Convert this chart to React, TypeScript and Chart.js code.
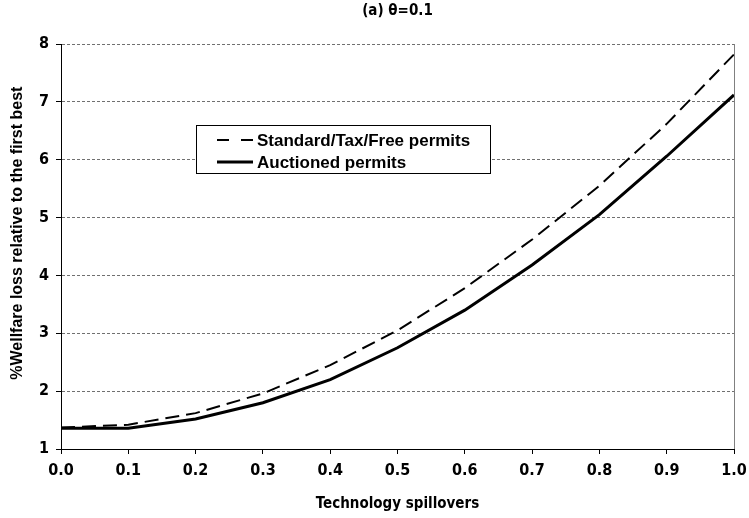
import React, { useEffect, useRef } from "react";
import { Chart, registerables } from "chart.js";

Chart.register(...registerables);

const spillovers = [0.0, 0.1, 0.2, 0.3, 0.4, 0.5, 0.6, 0.7, 0.8, 0.9, 1.0];
const standardPermits = [1.37, 1.42, 1.62, 1.96, 2.45, 3.05, 3.78, 4.62, 5.55, 6.62, 7.82];
const auctionedPermits = [1.36, 1.36, 1.52, 1.8, 2.2, 2.75, 3.4, 4.18, 5.05, 6.06, 7.12];
const seriesLabels = ["Standard/Tax/Free permits", "Auctioned permits"];
const titleText = "(a) θ=0.1";
const xTitle = "Technology spillovers";
const yTitle = "%Wellfare loss relative to the first best";

const NARROW = "'Liberation Sans Narrow', 'DejaVu Sans Condensed', 'Liberation Sans', Arial, sans-serif";
const SANS = "'Liberation Sans', Arial, sans-serif";

const frameAndLegend = {
  id: "frameAndLegend",
  afterDatasetsDraw(chart: any) {
    const { ctx, chartArea } = chart;
    ctx.save();
    // right border of plot area
    ctx.strokeStyle = "#808080";
    ctx.lineWidth = 1;
    ctx.setLineDash([]);
    ctx.beginPath();
    ctx.moveTo(chartArea.right + 0.5, chartArea.top);
    ctx.lineTo(chartArea.right + 0.5, chartArea.bottom);
    ctx.stroke();

    // legend box
    const bx = 196, by = 125, bw = 294, bh = 48;
    ctx.fillStyle = "#ffffff";
    ctx.fillRect(bx, by, bw, bh);
    ctx.strokeStyle = "#000000";
    ctx.lineWidth = 1;
    ctx.strokeRect(bx + 0.5, by + 0.5, bw, bh);

    const rows = [140, 162];
    chart.data.datasets.forEach((ds: any, i: number) => {
      const y = rows[i];
      ctx.beginPath();
      ctx.strokeStyle = ds.borderColor;
      ctx.lineWidth = i === 0 ? 2 : 3;
      ctx.setLineDash(i === 0 ? [12, 12] : []);
      ctx.moveTo(217, y);
      ctx.lineTo(253, y);
      ctx.stroke();
      ctx.setLineDash([]);
      ctx.fillStyle = "#000000";
      ctx.font = "bold 17px " + SANS;
      ctx.textBaseline = "middle";
      ctx.textAlign = "left";
      ctx.fillText(ds.label, 257, y + 1);
    });
    ctx.restore();
  },
};

export default function App() {
  const canvasRef = useRef<HTMLCanvasElement | null>(null);

  useEffect(() => {
    document.body.style.margin = "0";
    const canvas = canvasRef.current;
    if (!canvas) return;
    const chart = new Chart(canvas, {
      type: "line",
      data: {
        datasets: [
          {
            label: seriesLabels[0],
            data: spillovers.map((x, i) => ({ x, y: standardPermits[i] })),
            borderColor: "#000000",
            borderWidth: 2,
            borderDash: [14, 7],
            pointRadius: 0,
            tension: 0,
            fill: false,
          },
          {
            label: seriesLabels[1],
            data: spillovers.map((x, i) => ({ x, y: auctionedPermits[i] })),
            borderColor: "#000000",
            borderWidth: 3,
            pointRadius: 0,
            tension: 0,
            fill: false,
          },
        ],
      },
      options: {
        responsive: false,
        animation: false,
        layout: { padding: { top: 0, right: 15, bottom: 0, left: 0 } },
        plugins: {
          legend: { display: false },
          tooltip: { enabled: false },
          title: {
            display: true,
            text: titleText,
            fullSize: false,
            color: "#000000",
            font: { family: NARROW, size: 15, weight: "bold" },
            padding: { top: 2, bottom: 24 },
          },
        },
        scales: {
          x: {
            type: "linear",
            min: 0,
            max: 1,
            ticks: {
              stepSize: 0.1,
              color: "#000000",
              font: { family: NARROW, size: 16, weight: "bold" },
              padding: 7,
              maxRotation: 0,
              callback: (v: any) => Number(v).toFixed(1),
            },
            grid: {
              drawOnChartArea: false,
              drawTicks: true,
              tickLength: 5,
              tickColor: "#000000",
            },
            border: { display: true, color: "#000000", width: 1 },
            title: {
              display: true,
              text: xTitle,
              color: "#000000",
              font: { family: NARROW, size: 15, weight: "bold" },
              padding: { top: 0, bottom: 5 },
            },
            afterFit: (scale: any) => {
              scale.height = 69;
              scale.paddingLeft = 0;
              scale.paddingRight = 0;
            },
          },
          y: {
            type: "linear",
            min: 1,
            max: 8,
            ticks: {
              stepSize: 1,
              color: "#000000",
              font: { family: NARROW, size: 16, weight: "bold" },
              padding: 7,
            },
            grid: {
              color: "#707070",
              lineWidth: 1,
              tickLength: 5,
              tickColor: "#000000",
              tickBorderDash: [],
            },
            border: { display: true, color: "#000000", width: 1, dash: [3, 2] },
            title: {
              display: true,
              text: "      " + yTitle,
              color: "#000000",
              font: { family: SANS, size: 16, weight: "bold" },
              padding: { top: 8, bottom: 0 },
            },
            afterFit: (scale: any) => {
              scale.width = 61;
            },
          },
        },
      },
      plugins: [frameAndLegend],
    });
    return () => chart.destroy();
  }, []);

  return (
    <div style={{ width: 749, height: 518 }}>
      <canvas ref={canvasRef} width={749} height={518} style={{ display: "block" }} />
    </div>
  );
}
